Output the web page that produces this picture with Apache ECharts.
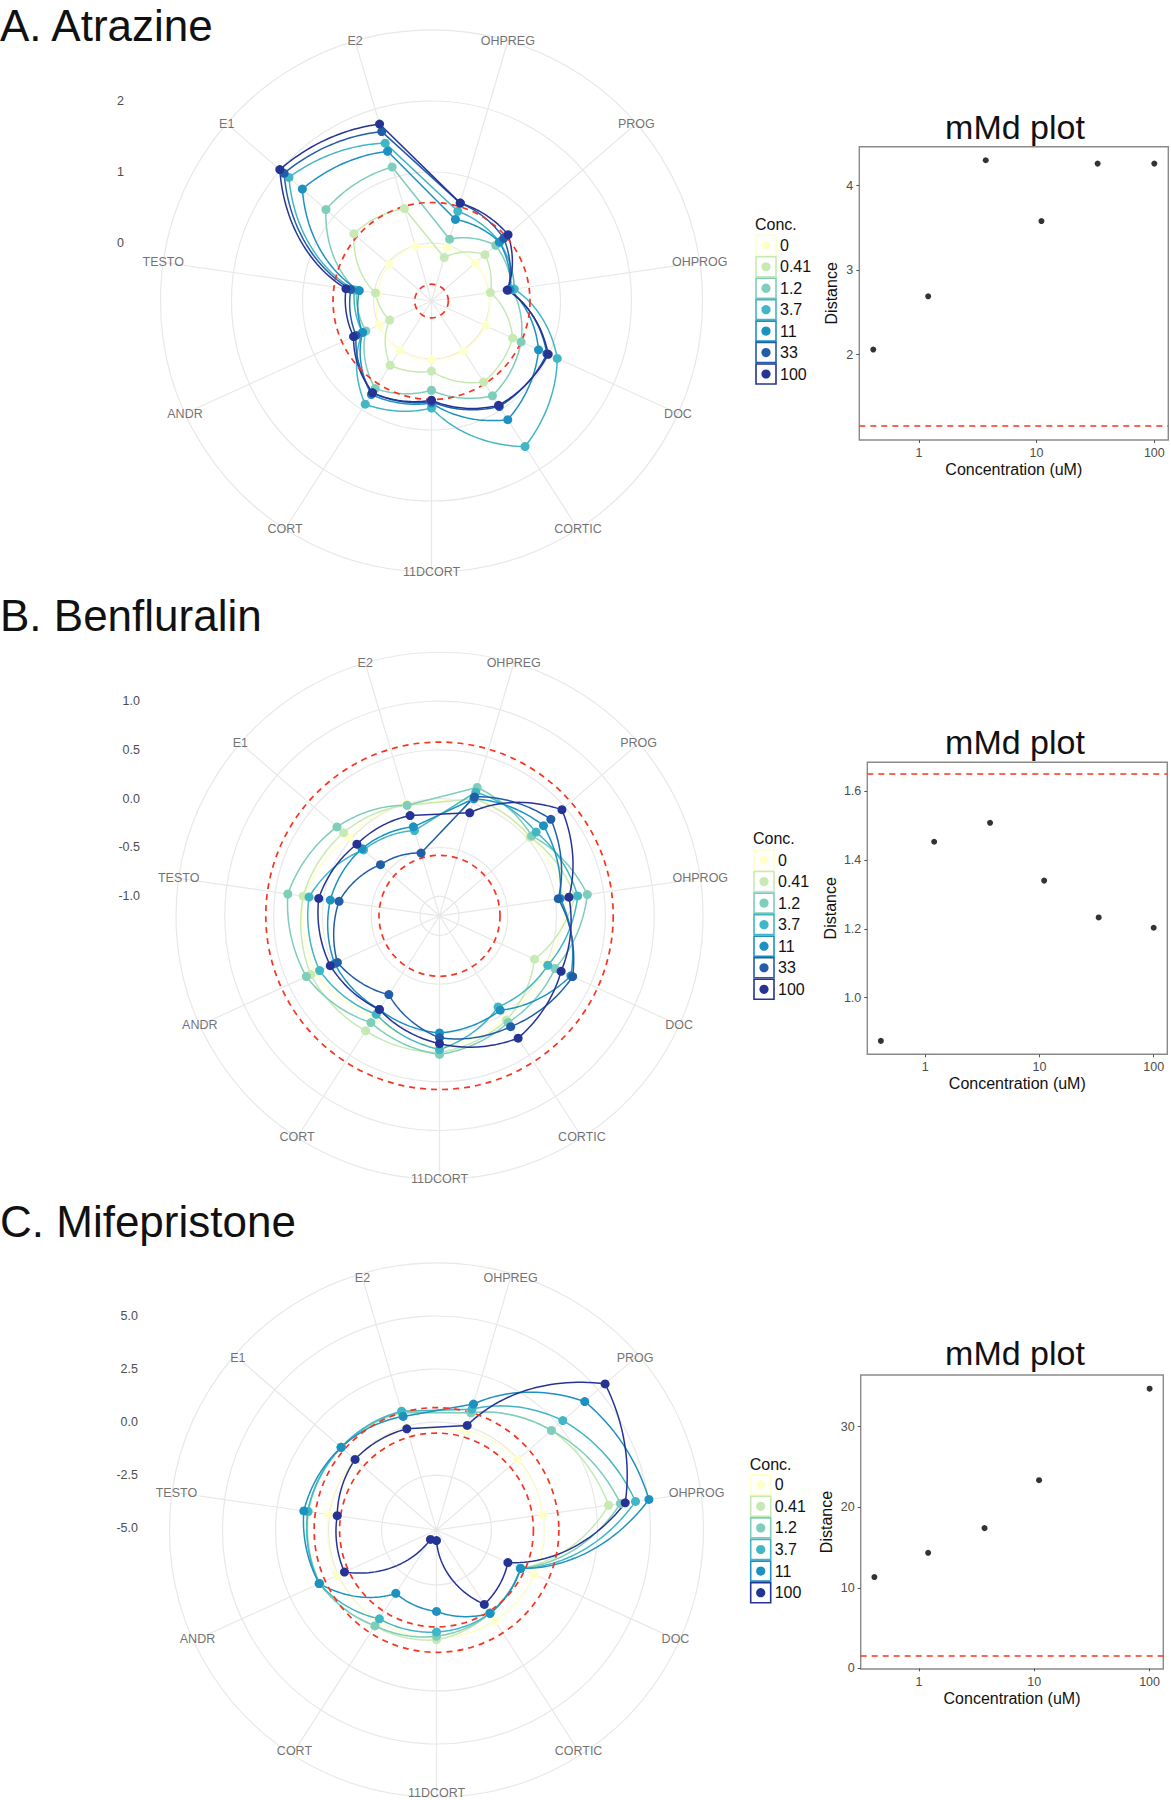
<!DOCTYPE html>
<html><head><meta charset="utf-8">
<script src="https://cdn.jsdelivr.net/npm/echarts@6/dist/echarts.min.js"></script>
<style>html,body{margin:0;padding:0;background:#fff}#c{width:1171px;height:1800px}</style>
</head><body><div id="c"></div>
<script>
// ---------------- DATA ----------------
const spokeLabels = ['OHPREG','PROG','OHPROG','DOC','CORTIC','11DCORT','CORT','ANDR','TESTO','E1','E2'];
const concAB = ['0','0.41','1.2','3.7','11','33','100'];
const concC  = ['0','0.41','1.2','3.7','11','100'];

// A. Atrazine (order of spokeLabels)
const atr_0    = [-0.03, 0.00, 0.00, 0.02, 0.02, 0.01, 0.01, -0.01, -0.05, -0.03, -0.01];
const atr_041  = [-0.18, 0.18, 0.02, 0.44, 0.54, 0.17, 0.26, -0.17, -0.02, 0.63, 0.54];
const atr_12   = [0.09, 0.38, 0.33, 0.57, 0.77, 0.44, 0.65, 0.20, 0.25, 1.15, 1.15];
const atr_37   = [0.50, 0.45, 0.36, 1.13, 1.62, 0.69, 0.91, 0.25, 0.28, 1.84, 1.50];
const atr_11   = [0.38, 0.45, 0.30, 0.84, 1.17, 0.62, 0.75, 0.25, 0.21, 1.59, 1.38];
const atr_33   = [0.62, 0.53, 0.27, 0.97, 0.95, 0.60, 0.72, 0.35, 0.33, 1.93, 1.67];
const atr_100  = [0.62, 0.61, 0.26, 0.99, 0.93, 0.58, 0.72, 0.39, 0.40, 2.01, 1.78];

// B. Benfluralin
const ben_0    = [0.05, 0.02, 0.10, 0.00, 0.05, 0.15, 0.03, 0.20, 0.20, 0.03, 0.00];
const ben_041  = [0.05, 0.03, 0.20, -0.13, 0.07, 0.20, 0.20, 0.25, 0.21, 0.10, -0.02];
const ben_12   = [0.17, 0.05, 0.33, 0.10, 0.10, 0.22, 0.10, 0.30, 0.37, 0.19, -0.02];
const ben_37   = [0.12, 0.11, 0.23, 0.02, -0.09, 0.17, 0.00, 0.15, 0.15, -0.17, -0.29];
const ben_11   = [0.05, 0.21, 0.05, 0.28, -0.05, 0.00, -0.06, -0.02, -0.07, -0.15, -0.25];
const ben_33   = [0.07, 0.31, 0.03, 0.30, 0.15, 0.05, -0.24, -0.05, -0.16, -0.40, -0.53];
const ben_100  = [-0.10, 0.46, 0.14, 0.17, 0.29, 0.11, -0.06, 0.03, 0.05, -0.08, -0.13];

// C. Mifepristone
const mif_0    = [-0.20, -0.03, -0.02, -0.02, 0.01, 0.00, 0.00, 0.06, 0.06, 0.00, -0.05];
const mif_041  = [0.67, 2.08, 3.11, -0.75, -0.45, 0.09, 0.30, 0.95, 1.00, 0.86, 0.65];
const mif_12   = [0.67, 2.08, 3.67, -0.75, -0.43, -0.08, 0.27, 0.97, 1.04, 0.86, 0.70];
const mif_37   = [0.85, 2.79, 4.39, -0.73, -0.42, -0.28, -0.11, 0.99, 1.04, 0.86, 0.75];
const mif_11   = [1.10, 4.16, 5.03, -0.73, -0.42, -1.25, -1.54, 0.99, 1.23, 0.86, 0.49];
const mif_100  = [0.05, 5.43, 3.90, -1.39, -0.92, -4.59, -4.56, -0.32, -0.36, -0.01, -0.12];

// radial grid circles / tick labels / red threshold circles
const gridCirclesA = [0, 1, 2, 3];
const gridCirclesB = [-1, -0.5, 0, 0.5, 1, 1.5];
const gridCirclesC = [-5, -2.5, 0, 2.5, 5, 7.5];
const radialTicksA = [0, 1, 2];
const radialTicksB = [-1, -0.5, 0, 0.5, 1];
const radialTicksC = [-5, -2.5, 0, 2.5, 5];
const redCirclesA = [-0.58, 0.57];
const redCirclesB = [-0.58, 0.58];
const redCirclesC = [-0.52, 0.68];

// mMd plots
const mmdConcAB = [0.41, 1.2, 3.7, 11, 33, 100];
const mmdConcC  = [0.41, 1.2, 3.7, 11, 100];
const mmdDistA  = [2.06, 2.69, 4.30, 3.58, 4.26, 4.26];
const mmdDistB  = [0.874, 1.453, 1.508, 1.34, 1.233, 1.203];
const mmdDistC  = [11.33, 14.34, 17.4, 23.35, 34.7];
const mmdThrA = 1.16, mmdThrB = 1.645, mmdThrC = 1.57;
const mmdXTicks = [1, 10, 100];
const mmdYTicksA = [2, 3, 4];
const mmdYTicksB = [1.0, 1.2, 1.4, 1.6];
const mmdYTicksC = [0, 10, 20, 30];

// ---------------- STYLE / LAYOUT ----------------
const FONT = "'Liberation Sans', Arial, Helvetica, sans-serif";
const concColors = {'0':'#ffffcc','0.41':'#c7e9b4','1.2':'#7fcdbb','3.7':'#41b6c4','11':'#1d91c0','33':'#225ea8','100':'#253494'};
const GRIDC = '#e8e8e8';
const RED = '#f8331f';

const panels = [
  {title:'A. Atrazine', concs:concAB, series:[atr_0,atr_041,atr_12,atr_37,atr_11,atr_33,atr_100],
   circles:gridCirclesA, ticks:radialTicksA, red:redCirclesA,
   mx:mmdConcAB, my:mmdDistA, thr:mmdThrA, yticks:mmdYTicksA},
  {title:'B. Benfluralin', concs:concAB, series:[ben_0,ben_041,ben_12,ben_37,ben_11,ben_33,ben_100],
   circles:gridCirclesB, ticks:radialTicksB, red:redCirclesB,
   mx:mmdConcAB, my:mmdDistB, thr:mmdThrB, yticks:mmdYTicksB},
  {title:'C. Mifepristone', concs:concC, series:[mif_0,mif_041,mif_12,mif_37,mif_11,mif_100],
   circles:gridCirclesC, ticks:radialTicksC, red:redCirclesC,
   mx:mmdConcC, my:mmdDistC, thr:mmdThrC, yticks:mmdYTicksC}
];

const layout = [
  {titleY:25.5, cx:431.5, cy:301, R:271, rmin:-0.817, rmax:3, labelV:3, tickRight:124, tickDec:0,
   leg:{x:756, titleY:224, y0:245.3, dy:21.45},
   m:{left:859.3, top:146.7, right:1168.3, bottom:440, titleY:126.7, ymin:0.99, ymax:4.46, dec:0, nameX:831.7}},
  {titleY:615.6, cx:439.5, cy:915.8, R:263.5, rmin:-1.2, rmax:1.5, labelV:1.5, tickRight:140, tickDec:1,
   leg:{x:754, titleY:838.3, y0:860, dy:21.55},
   m:{left:867.3, top:762.3, right:1167.3, bottom:1054.3, titleY:742, ymin:0.835, ymax:1.684, dec:1, nameX:830}},
  {titleY:1221, cx:436.5, cy:1530, R:267, rmin:-5.09, rmax:7.5, labelV:7.3, tickRight:138, tickDec:1,
   leg:{x:750.7, titleY:1464, y0:1484.7, dy:21.6},
   m:{left:860.7, top:1375, right:1163.3, bottom:1669, titleY:1353, ymin:-0.08, ymax:36.4, dec:0, nameX:826.7}}
];
const MMD_XMIN = 0.312, MMD_XMAX = 131.5;

// ---------------- BUILD ----------------
const STEP = 360 / spokeLabels.length;
const option = {
  animation:false, backgroundColor:'#fff', textStyle:{fontFamily:FONT},
  polar:[], angleAxis:[], radiusAxis:[], grid:[], xAxis:[], yAxis:[], series:[],
  graphic:{elements:[]}
};
const G = option.graphic.elements;

function segmentRenderer(color){
  return function(params, api){
    const v0 = api.value(0), a0 = api.value(1), v1 = api.value(2), a1 = api.value(3), straight = api.value(4);
    const steps = straight ? 1 : 30;
    const pts = [];
    for (let s = 0; s <= steps; s++) {
      const t = s / steps;
      pts.push(api.coord([v0 + (v1 - v0) * t, a0 + (a1 - a0) * t]));
    }
    return {type:'polyline', silent:true, shape:{points:pts},
            style:{stroke:color, fill:'none', lineWidth:1.5, lineCap:'round', lineJoin:'round'}};
  };
}
function redCircleRenderer(params, api){
  const cs = params.coordSys;
  const p = api.coord([api.value(0), 0]);
  const r = Math.hypot(p[0] - cs.cx, p[1] - cs.cy);
  return {type:'circle', silent:true, shape:{cx:cs.cx, cy:cs.cy, r:r},
          style:{fill:'none', stroke:RED, lineWidth:1.7, lineDash:[6,5]}};
}

panels.forEach((p, k) => {
  const L = layout[k];
  option.polar.push({center:[L.cx, L.cy], radius:L.R});
  option.angleAxis.push({polarIndex:k, type:'value', min:0, max:360, interval:STEP,
    startAngle:90 - STEP/2, clockwise:true,
    axisLine:{show:false}, axisTick:{show:false}, axisLabel:{show:false},
    splitLine:{show:true, lineStyle:{color:GRIDC, width:1.2}}});
  option.radiusAxis.push({polarIndex:k, type:'value', min:L.rmin, max:L.rmax,
    axisLine:{show:false}, axisTick:{show:false, customValues:p.circles},
    axisLabel:{show:false, customValues:p.circles},
    splitLine:{show:true, lineStyle:{color:GRIDC, width:1.2}}});

  // radial tick labels on the left (own grid sharing the same value range)
  const gi = option.grid.length;
  option.grid.push({left:L.tickRight + 3, top:L.cy - L.R, width:4, height:L.R, show:false});
  option.xAxis.push({gridIndex:gi, type:'value', show:false, min:0, max:1});
  option.yAxis.push({gridIndex:gi, type:'value', min:L.rmin, max:L.rmax,
    axisLine:{show:false}, axisTick:{show:false}, splitLine:{show:false},
    axisLabel:{customValues:p.ticks, margin:3, color:'#4d4d4d', fontSize:12.5, fontFamily:FONT,
      formatter:(v)=>Number(v).toFixed(L.tickDec)}});

  // lines
  p.series.forEach((vals, j) => {
    const color = concColors[p.concs[j]];
    const n = vals.length;
    option.series.push({type:'custom', coordinateSystem:'polar', polarIndex:k, z:2 + j*0.01, silent:true,
      encode:{radius:0, angle:1},
      data: vals.map((v,i)=>[v, i*STEP, vals[(i+1)%n], (i+1)*STEP, i===n-1 ? 1 : 0]),
      renderItem: segmentRenderer(color)});
  });
  // red dashed circles
  option.series.push({type:'custom', coordinateSystem:'polar', polarIndex:k, z:3, silent:true,
    encode:{radius:0, angle:1}, data: p.red.map(v=>[v, 0]), renderItem: redCircleRenderer});
  // points
  p.series.forEach((vals, j) => {
    const color = concColors[p.concs[j]];
    option.series.push({type:'scatter', coordinateSystem:'polar', polarIndex:k, z:4 + j*0.01, silent:true,
      symbolSize:9, itemStyle:{color:color, opacity:1}, emphasis:{disabled:true},
      data: vals.map((v,i)=>[v, i*STEP])});
  });
  // spoke labels on the outer circle
  option.series.push({type:'scatter', coordinateSystem:'polar', polarIndex:k, z:6, silent:true,
    symbolSize:1, itemStyle:{color:'rgba(0,0,0,0)'},
    label:{show:true, position:'inside', color:'#4d4d4d', fontSize:12.5, fontFamily:FONT,
      formatter:(prm)=>spokeLabels[prm.dataIndex]},
    data: spokeLabels.map((s,i)=>[L.labelV, i*STEP])});

  // title
  G.push({type:'text', x:0, y:L.titleY, z:10,
    style:{text:p.title, fontSize:44, fontFamily:FONT, fill:'#111', align:'left', verticalAlign:'middle'}});

  // legend
  G.push({type:'text', x:L.leg.x - 1, y:L.leg.titleY,
    style:{text:'Conc.', fontSize:16, fontFamily:FONT, fill:'#111', align:'left', verticalAlign:'middle'}});
  p.concs.forEach((c, j) => {
    const y = L.leg.y0 + j * L.leg.dy, col = concColors[c];
    G.push({type:'rect', shape:{x:L.leg.x, y:y - 10, width:20, height:20},
      style:{fill:'#fff', stroke:col, lineWidth:1.6}});
    G.push({type:'circle', shape:{cx:L.leg.x + 10, cy:y, r:4.6}, style:{fill:col}});
    G.push({type:'text', x:L.leg.x + 24, y:y,
      style:{text:c, fontSize:16, fontFamily:FONT, fill:'#111', align:'left', verticalAlign:'middle'}});
  });

  // mMd plot
  const m = L.m, g2 = option.grid.length;
  option.grid.push({left:m.left, top:m.top, width:m.right - m.left, height:m.bottom - m.top,
    show:true, borderColor:'#8a8a8a', borderWidth:1.4, backgroundColor:'rgba(0,0,0,0)'});
  option.xAxis.push({gridIndex:g2, type:'log', logBase:10, min:MMD_XMIN, max:MMD_XMAX,
    axisLine:{show:false}, splitLine:{show:false}, minorSplitLine:{show:false},
    axisTick:{show:true, length:3, customValues:mmdXTicks, lineStyle:{color:'#555'}},
    axisLabel:{customValues:mmdXTicks, margin:6, color:'#4d4d4d', fontSize:12.5, fontFamily:FONT},
    name:'Concentration (uM)', nameLocation:'middle', nameGap:21,
    nameTextStyle:{fontSize:16, color:'#111', fontFamily:FONT}});
  option.yAxis.push({gridIndex:g2, type:'value', min:m.ymin, max:m.ymax,
    axisLine:{show:false}, splitLine:{show:false},
    axisTick:{show:true, length:3, customValues:p.yticks, lineStyle:{color:'#555'}},
    axisLabel:{customValues:p.yticks, margin:6, color:'#4d4d4d', fontSize:12.5, fontFamily:FONT,
      formatter:(v)=>Number(v).toFixed(m.dec)},
    name:'Distance', nameLocation:'middle', nameRotate:90, nameGap:m.left - m.nameX - 8,
    nameTextStyle:{fontSize:16, color:'#111', fontFamily:FONT}});
  option.series.push({type:'scatter', xAxisIndex:g2, yAxisIndex:g2, z:5, silent:true,
    symbolSize:6, itemStyle:{color:'#000'}, emphasis:{disabled:true},
    data: p.mx.map((c,i)=>[c, p.my[i]]),
    markLine:{silent:true, symbol:'none', label:{show:false},
      lineStyle:{color:RED, type:[6,5], width:1.6}, emphasis:{disabled:true},
      data:[{yAxis:p.thr}]}});
  G.push({type:'text', x:1015, y:m.titleY,
    style:{text:'mMd plot', fontSize:34, fontFamily:FONT, fill:'#111', align:'center', verticalAlign:'middle'}});
});

const chart = echarts.init(document.getElementById('c'), null, {renderer:'svg', width:1171, height:1800});
chart.setOption(option);
</script>
</body></html>
